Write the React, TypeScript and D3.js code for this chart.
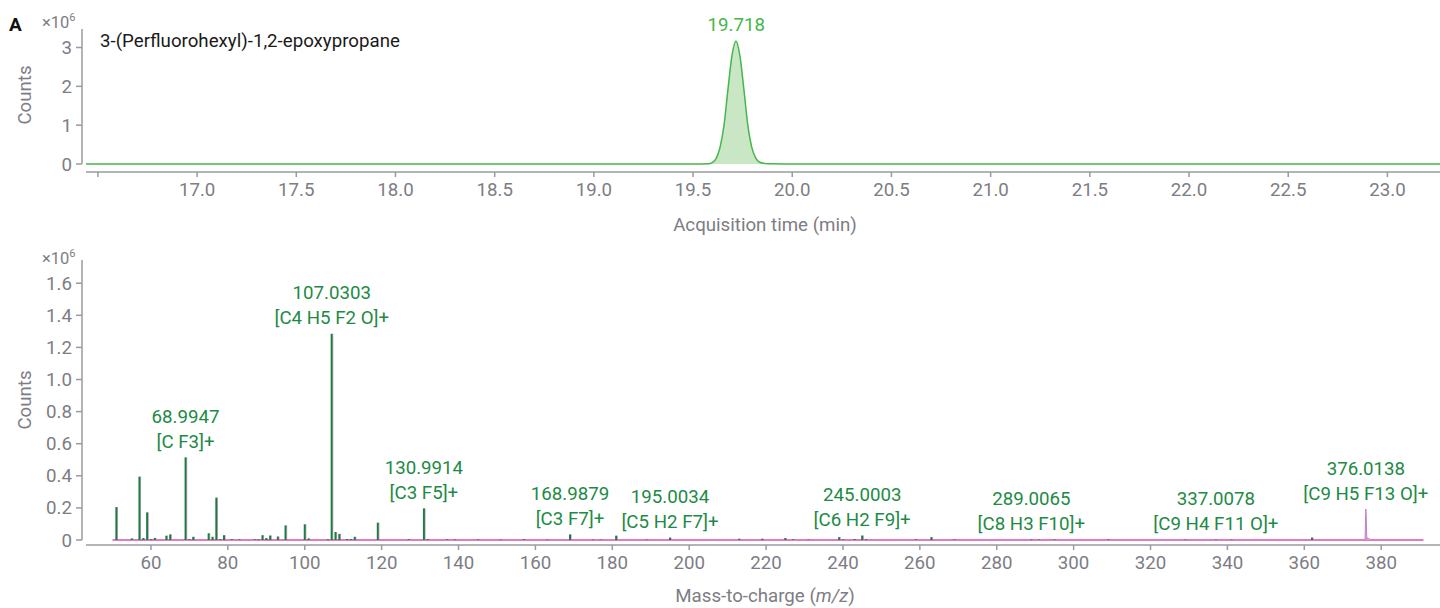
import React from "react";
import * as d3 from "d3";

// ---- Chromatogram (top) data ----
const rtTimes = [16.44, 19.5, 19.58, 19.596, 19.616, 19.636, 19.656, 19.676, 19.696, 19.716, 19.736, 19.756, 19.776, 19.796, 19.816, 19.836, 19.86, 19.9, 20.0, 23.265];
const rtCounts = [0, 0, 0.005, 0.035, 0.14, 0.43, 1.0, 1.93, 2.79, 3.17, 2.79, 1.93, 1.0, 0.43, 0.15, 0.045, 0.015, 0.005, 0, 0];
const rtTicks = [16.5, 17.0, 17.5, 18.0, 18.5, 19.0, 19.5, 20.0, 20.5, 21.0, 21.5, 22.0, 22.5, 23.0];
const rtYTicks = [0, 1, 2, 3];
const peakRt = 19.718;
const peakRtHeight = 3.17;
const compoundName = "3-(Perfluorohexyl)-1,2-epoxypropane";

// ---- Mass spectrum (bottom) data ----
const stickMz = [51, 55, 57, 58, 59, 60, 61, 64, 65, 69, 70, 71, 75, 76, 77, 78, 79, 81, 83, 87, 88, 89, 90, 91, 93, 95, 100, 101, 106, 107, 108, 109, 111, 112, 113, 119, 127, 131, 132, 137, 139, 145, 151, 157, 163, 169, 175, 177, 181, 189, 195, 213, 219, 225, 227, 231, 239, 240, 243, 245, 246, 259, 263, 269, 289, 291, 295, 309, 329, 337, 341, 362];
const stickI = [0.205, 0.01, 0.395, 0.012, 0.172, 0.005, 0.013, 0.027, 0.035, 0.515, 0.005, 0.02, 0.042, 0.02, 0.264, 0.005, 0.03, 0.005, 0.004, 0.004, 0.005, 0.03, 0.012, 0.028, 0.022, 0.091, 0.098, 0.01, 0.005, 1.285, 0.05, 0.038, 0.006, 0.006, 0.02, 0.108, 0.005, 0.197, 0.005, 0.004, 0.004, 0.004, 0.003, 0.005, 0.003, 0.035, 0.003, 0.003, 0.027, 0.003, 0.015, 0.008, 0.008, 0.012, 0.004, 0.003, 0.018, 0.004, 0.006, 0.028, 0.005, 0.004, 0.018, 0.004, 0.004, 0.003, 0.004, 0.004, 0.003, 0.003, 0.003, 0.015];
const profileOnlyMz = [375.8, 375.95, 376.0, 376.1, 376.25, 376.45, 376.65, 376.85, 377.1, 377.4];
const profileOnlyI = [0, 0.16, 0.193, 0.16, 0.004, 0.014, 0.004, 0.01, 0.003, 0];
const labelMz = [68.9947, 107.0303, 130.9914, 168.9879, 195.0034, 245.0003, 289.0065, 337.0078, 376.0138];
const labelI = [0.515, 1.285, 0.197, 0.035, 0.015, 0.028, 0.004, 0.003, 0.193];
const labelFormula = ["[C F3]+", "[C4 H5 F2 O]+", "[C3 F5]+", "[C3 F7]+", "[C5 H2 F7]+", "[C6 H2 F9]+", "[C8 H3 F10]+", "[C9 H4 F11 O]+", "[C9 H5 F13 O]+"];
const mzTicks = [60, 80, 100, 120, 140, 160, 180, 200, 220, 240, 260, 280, 300, 320, 340, 360, 380];
const msYTicks = [0, 0.2, 0.4, 0.6, 0.8, 1.0, 1.2, 1.4, 1.6];
const mzRange = [50, 391];

const FONT = "Roboto, 'Noto Sans', sans-serif";
const FS = 18.7;
const GRAY = "#7d7d84";
const AXIS = "#9a9aa0";
const LGREEN = "#45b649";
const DGREEN = "#17803d";
const LABELG = "#1d8a45";
const MAGENTA = "#d94fb0";

export default function App() {
  const W = 1440, H = 608;
  const xT = d3.scaleLinear().domain([16.44, 23.265]).range([86, 1440]);
  const yT = d3.scaleLinear().domain([0, 3]).range([164, 47.5]);
  const xB = d3.scaleLinear().domain([43.1, 395.3]).range([86, 1440]);
  const yB = d3.scaleLinear().domain([0, 1.6]).range([540, 283.2]);

  const rtPts: [number, number][] = rtTimes.map((t, i) => [t, rtCounts[i]]);
  const line = d3.line<[number, number]>().x(d => xT(d[0])).y(d => yT(d[1])).curve(d3.curveMonotoneX);
  const area = d3.area<[number, number]>().x(d => xT(d[0])).y0(yT(0)).y1(d => yT(d[1])).curve(d3.curveMonotoneX);
  const peakPts = rtPts.filter(d => d[0] >= 19.58 && d[0] <= 19.9);

  const profPts: [number, number][] = profileOnlyMz.map((m, i) => [m, profileOnlyI[i]]);
  const profLine = d3.line<[number, number]>().x(d => xB(d[0])).y(d => yB(d[1]));
  const profArea = d3.area<[number, number]>().x(d => xB(d[0])).y0(yB(0)).y1(d => yB(d[1]));

  const fmtB = (v: number) => (v === 0 ? "0" : d3.format(".1f")(v));

  return (
    <svg width={W} height={H} style={{ display: "block", position: "absolute", left: 0, top: 0 }} fontFamily={FONT}>
      <rect width={W} height={H} fill="#fff" />
      {/* ===== TOP ===== */}
      <text x={9} y={31} fontSize={19} fontWeight="bold" fill="#111">A</text>
      <text x={42} y={28} fontSize={16.5} fill={GRAY}>×10<tspan dy={-7} fontSize={11}>6</tspan></text>
      <line x1={82} x2={82} y1={29} y2={164} stroke={AXIS} strokeWidth={1.5} />
      {rtYTicks.map(v => (
        <g key={"yt" + v}>
          <line x1={76} x2={82} y1={yT(v)} y2={yT(v)} stroke={AXIS} strokeWidth={1.5} />
          <text x={72} y={yT(v)} dy="0.35em" textAnchor="end" fontSize={FS} fill={GRAY}>{v}</text>
        </g>
      ))}
      <text transform="translate(31,95) rotate(-90)" textAnchor="middle" fontSize={FS} fill={GRAY}>Counts</text>
      <line x1={86} x2={1440} y1={172} y2={172} stroke={AXIS} strokeWidth={1.5} />
      {rtTicks.map(v => (
        <g key={"xt" + v}>
          <line x1={xT(v)} x2={xT(v)} y1={172} y2={177} stroke={AXIS} strokeWidth={1.5} />
          {v >= 17 && <text x={xT(v)} y={189} dy="0.35em" textAnchor="middle" fontSize={FS} fill={GRAY}>{v.toFixed(1)}</text>}
        </g>
      ))}
      <text x={765} y={224} dy="0.35em" textAnchor="middle" fontSize={FS} fill={GRAY}>Acquisition time (min)</text>
      <path d={area(peakPts) || ""} fill="#c9e7c5" />
      <path d={line(rtPts) || ""} fill="none" stroke={LGREEN} strokeWidth={1.5} />
      <text x={xT(peakRt)} y={yT(peakRtHeight) - 16} dy="0.35em" textAnchor="middle" fontSize={FS} fill={LGREEN}>{peakRt.toFixed(3)}</text>
      <text x={100} y={40} dy="0.35em" fontSize={FS} fill="#1a1a1a">{compoundName}</text>

      {/* ===== BOTTOM ===== */}
      <text x={42} y={264} fontSize={16.5} fill={GRAY}>×10<tspan dy={-7} fontSize={11}>6</tspan></text>
      <line x1={82} x2={82} y1={260} y2={540} stroke={AXIS} strokeWidth={1.5} />
      {msYTicks.map(v => (
        <g key={"my" + v}>
          <line x1={76} x2={82} y1={yB(v)} y2={yB(v)} stroke={AXIS} strokeWidth={1.5} />
          <text x={72} y={yB(v)} dy="0.35em" textAnchor="end" fontSize={FS} fill={GRAY}>{fmtB(v)}</text>
        </g>
      ))}
      <text transform="translate(31,400) rotate(-90)" textAnchor="middle" fontSize={FS} fill={GRAY}>Counts</text>
      <line x1={86} x2={1440} y1={545} y2={545} stroke={AXIS} strokeWidth={1.5} />
      {mzTicks.map(v => (
        <g key={"mx" + v}>
          <line x1={xB(v)} x2={xB(v)} y1={545} y2={550} stroke={AXIS} strokeWidth={1.5} />
          <text x={xB(v)} y={562} dy="0.35em" textAnchor="middle" fontSize={FS} fill={GRAY}>{v}</text>
        </g>
      ))}
      <text x={765} y={595} dy="0.35em" textAnchor="middle" fontSize={FS} fill={GRAY}>Mass-to-charge (<tspan fontStyle="italic">m/z</tspan>)</text>

      <line x1={xB(mzRange[0])} x2={xB(mzRange[1])} y1={yB(0)} y2={yB(0)} stroke={MAGENTA} strokeWidth={1.3} />
      {stickMz.map((m, i) => (
        <line key={"p" + i} x1={xB(m) + 1.2} x2={xB(m) + 1.2} y1={yB(0)} y2={yB(stickI[i])} stroke={MAGENTA} strokeWidth={0.8} opacity={0.7} />
      ))}
      <path d={profArea(profPts) || ""} fill="#dfb3df" />
      <path d={profLine(profPts) || ""} fill="none" stroke="#c47fc4" strokeWidth={1} />
      {stickMz.map((m, i) => (
        <line key={"s" + i} x1={xB(m)} x2={xB(m)} y1={yB(0)} y2={yB(stickI[i])} stroke={DGREEN} strokeWidth={2} />
      ))}
      {labelMz.map((m, i) => (
        <g key={"l" + i}>
          <text x={xB(m)} y={yB(labelI[i]) - 41} dy="0.35em" textAnchor="middle" fontSize={FS} fill={LABELG}>{m.toFixed(4)}</text>
          <text x={xB(m)} y={yB(labelI[i]) - 16} dy="0.35em" textAnchor="middle" fontSize={FS} fill={LABELG}>{labelFormula[i]}</text>
        </g>
      ))}
    </svg>
  );
}
